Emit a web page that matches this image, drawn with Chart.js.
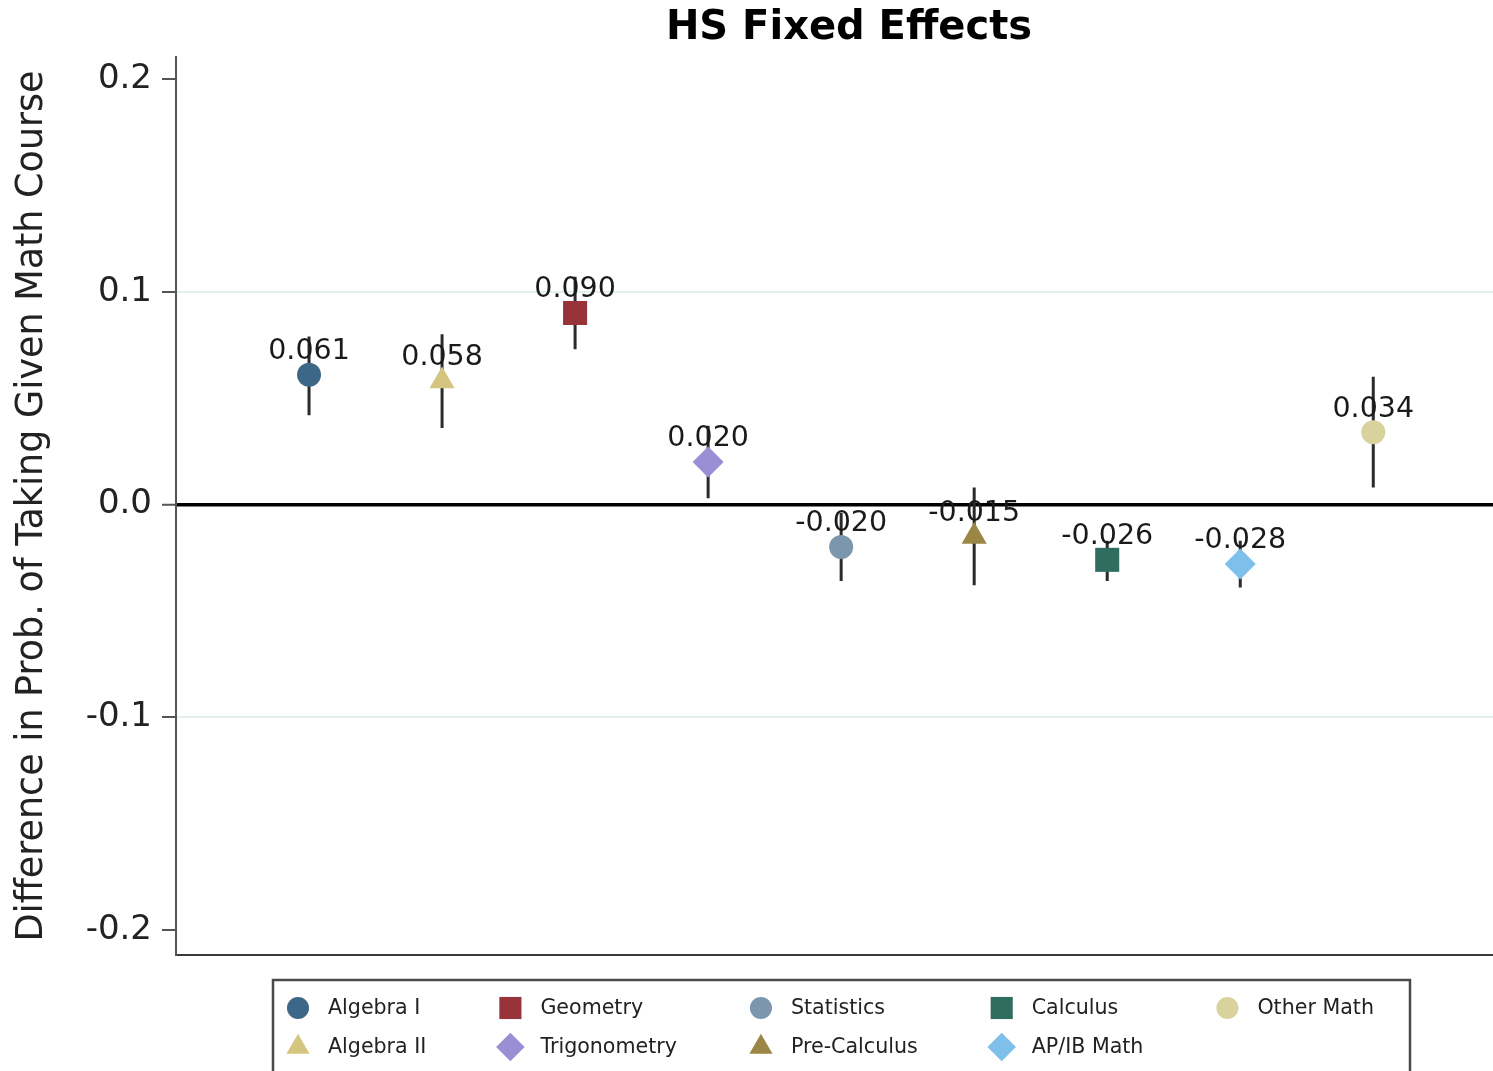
<!DOCTYPE html>
<html>
<head>
<meta charset="utf-8">
<script src="https://cdn.jsdelivr.net/npm/chart.js@4.4.1/dist/chart.umd.min.js"></script>
<style>
  html, body { margin: 0; padding: 0; background: #fff; overflow: hidden; }
  #wrap { width: 1493px; height: 1071px; position: relative; }
  canvas { display: block; }
</style>
</head>
<body>
<div id="wrap"><canvas id="chart" width="1493" height="1071"></canvas></div>
<script>
// data
const COURSES = ["Algebra I", "Algebra II", "Geometry", "Trigonometry", "Statistics",
  "Pre-Calculus", "Calculus", "AP/IB Math", "Other Math"];
const EST = [0.061, 0.058, 0.090, 0.020, -0.020, -0.015, -0.026, -0.028, 0.034];
const LO = [0.042, 0.036, 0.073, 0.003, -0.036, -0.038, -0.036, -0.039, 0.008];
const HI = [0.079, 0.080, 0.107, 0.037, -0.004, 0.008, -0.017, -0.017, 0.060];
const Y_TICKS = [-0.2, -0.1, 0.0, 0.1, 0.2];
const Y_TICK_LABELS = ["-0.2", "-0.1", "0.0", "0.1", "0.2"];

const COLORS = ["#3d6787", "#d4c680", "#973339", "#9a8fd5", "#7b96ad",
  "#9b8645", "#2e6d60", "#7fc0eb", "#d8d39d"];
const STYLES = ["circle", "triangle", "rect", "rectRot", "circle",
  "triangle", "rect", "rectRot", "circle"];
const SIZES = { circle: 12, triangle: 14.5, rect: 17, rectRot: 15.5 };

// legend: 5 columns, 2 rows, column-major
const LEGEND_COLS = [[0, 1], [2, 3], [4, 5], [6, 7], [8]];

const FONT = "'DejaVu Sans', sans-serif";

// marker datasets, one per course
const markerSets = COURSES.map((name, i) => ({
  type: "scatter",
  label: name,
  data: [{ x: i + 1, y: EST[i] }],
  pointStyle: STYLES[i],
  pointRadius: SIZES[STYLES[i]],
  backgroundColor: COLORS[i],
  borderColor: COLORS[i],
  borderWidth: 0,
  order: 1
}));

// error bars as one broken line
const ciData = [];
COURSES.forEach((c, i) => {
  ciData.push({ x: i + 1, y: LO[i] });
  ciData.push({ x: i + 1, y: HI[i] });
  ciData.push({ x: i + 1, y: null });
});

const labelPlugin = {
  id: "valueLabels",
  afterDatasetsDraw(chart) {
    const ctx = chart.ctx;
    ctx.save();
    ctx.font = "28.5px " + FONT;
    ctx.fillStyle = "#1a1a1a";
    ctx.textAlign = "center";
    ctx.textBaseline = "middle";
    COURSES.forEach((c, i) => {
      const pt = chart.getDatasetMeta(i + 1).data[0];
      ctx.fillText(EST[i].toFixed(3), pt.x, pt.y - 23);
    });
    ctx.restore();
  },
  afterDraw(chart) {
    const ctx = chart.ctx;
    ctx.save();
    // title
    ctx.font = "bold 40px " + FONT;
    ctx.fillStyle = "#000";
    ctx.textAlign = "center";
    ctx.textBaseline = "middle";
    ctx.fillText("HS Fixed Effects", 849, 29);

    // legend box
    const boxL = 273, boxR = 1410, boxT = 980;
    ctx.strokeStyle = "#4a4a4a";
    ctx.lineWidth = 2.5;
    ctx.strokeRect(boxL, boxT, boxR - boxL, 120);

    ctx.font = "20.6px " + FONT;
    ctx.textAlign = "left";
    const rows = [1008, 1047];
    let mx = boxL + 25;
    LEGEND_COLS.forEach(col => {
      let maxW = 0;
      col.forEach((idx, r) => {
        const st = STYLES[idx];
        ctx.fillStyle = COLORS[idx];
        Chart.helpers.drawPoint(ctx, {
          pointStyle: st,
          radius: SIZES[st] * 0.92,
          rotation: 0,
          borderWidth: 0
        }, mx, rows[r]);
        ctx.fillStyle = "#222";
        ctx.fillText(COURSES[idx], mx + 30, rows[r] + 1);
        maxW = Math.max(maxW, ctx.measureText(COURSES[idx]).width);
      });
      mx = mx + 30 + maxW + 84;
    });
    ctx.restore();
  }
};

const chart = new Chart(document.getElementById("chart"), {
  type: "scatter",
  data: {
    datasets: [{
      type: "line",
      label: "ci",
      data: ciData,
      borderColor: "#2b2b2b",
      borderWidth: 3,
      pointRadius: 0,
      spanGaps: false,
      fill: false,
      order: 5
    }].concat(markerSets)
  },
  options: {
    responsive: false,
    animation: false,
    events: [],
    layout: { autoPadding: false, padding: { top: 57, bottom: 116, left: 0, right: 0 } },
    plugins: {
      legend: { display: false },
      title: { display: false },
      tooltip: { enabled: false }
    },
    scales: {
      x: {
        type: "linear",
        min: 0,
        max: 9.9,
        grid: { display: false },
        ticks: { display: false },
        border: { display: true, color: "#3a3a3a", width: 2 },
        afterFit(scale) { scale.height = 0; }
      },
      y: {
        type: "linear",
        min: -0.2117,
        max: 0.2103,
        afterFit(scale) { scale.width = 176; },
        afterBuildTicks(scale) {
          scale.ticks = Y_TICKS.map(v => ({ value: v }));
        },
        ticks: {
          padding: 10,
          color: "#222",
          font: { family: FONT, size: 34 },
          callback: (v) => Y_TICK_LABELS[Y_TICKS.indexOf(v)]
        },
        grid: {
          drawTicks: true,
          tickLength: 14,
          tickWidth: 2,
          tickColor: "#555",
          color: (c) => {
            const v = c.tick ? c.tick.value : null;
            if (v === 0) return "#000";
            if (v === 0.1 || v === -0.1) return "#e6efef";
            return "rgba(0,0,0,0)";
          },
          lineWidth: (c) => (c.tick && c.tick.value === 0 ? 3.5 : 2)
        },
        border: { display: true, color: "#555", width: 2 },
        title: {
          display: true,
          text: "Difference in Prob. of Taking Given Math Course",
          color: "#222",
          font: { family: FONT, size: 36.5 },
          padding: { top: 11, bottom: 0 }
        }
      }
    }
  },
  plugins: [labelPlugin]
});
</script>
</body>
</html>
